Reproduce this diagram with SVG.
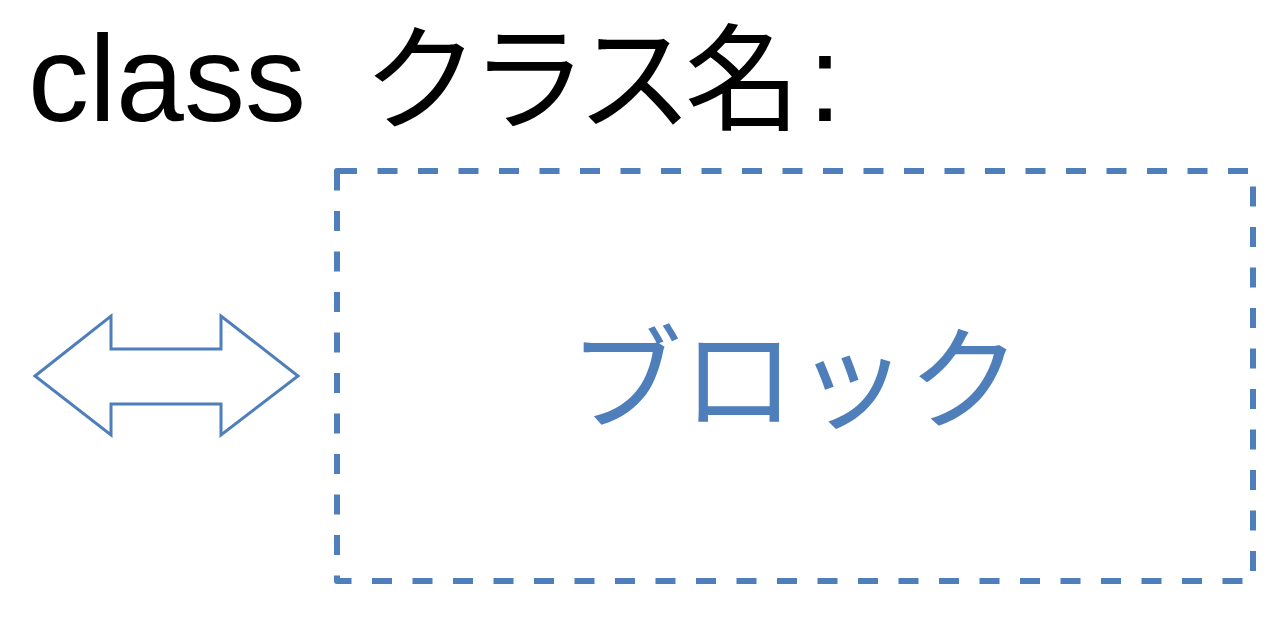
<svg xmlns="http://www.w3.org/2000/svg" width="1286" height="618" viewBox="0 0 1286 618">
<style>
.blue{stroke:#4F7FBA;fill:none}
.lat{font-family:"Liberation Sans",Arial,sans-serif;font-size:122px;fill:#000000}
.jp{font-family:"Noto Sans CJK JP","Noto Sans CJK SC",sans-serif}
</style>
<rect width="1286" height="618" fill="#ffffff"/>
<g id="title">
<text class="lat" x="28" y="121">class</text>
<text class="jp" x="363" y="121" font-size="116" letter-spacing="-8" fill="#000000">クラス名</text>
<text class="lat" x="808" y="121">:</text>
</g>
<g id="connectors">
<polygon class="blue" stroke-width="3" stroke-linejoin="miter" fill="#ffffff" points="35,376 111,316 111,349 221,349 221,316 298,376 221,435 221,404 111,404 111,435"/>
</g>
<g id="block">
<path class="blue" stroke-width="6" stroke-linejoin="round" stroke-dasharray="20 20.5" d="M337,171 H1253 V581 H337 Z"/>
<text class="jp" x="795" y="420" font-size="113" text-anchor="middle" fill="#4F7FBA">ブロック</text>
</g>
</svg>
